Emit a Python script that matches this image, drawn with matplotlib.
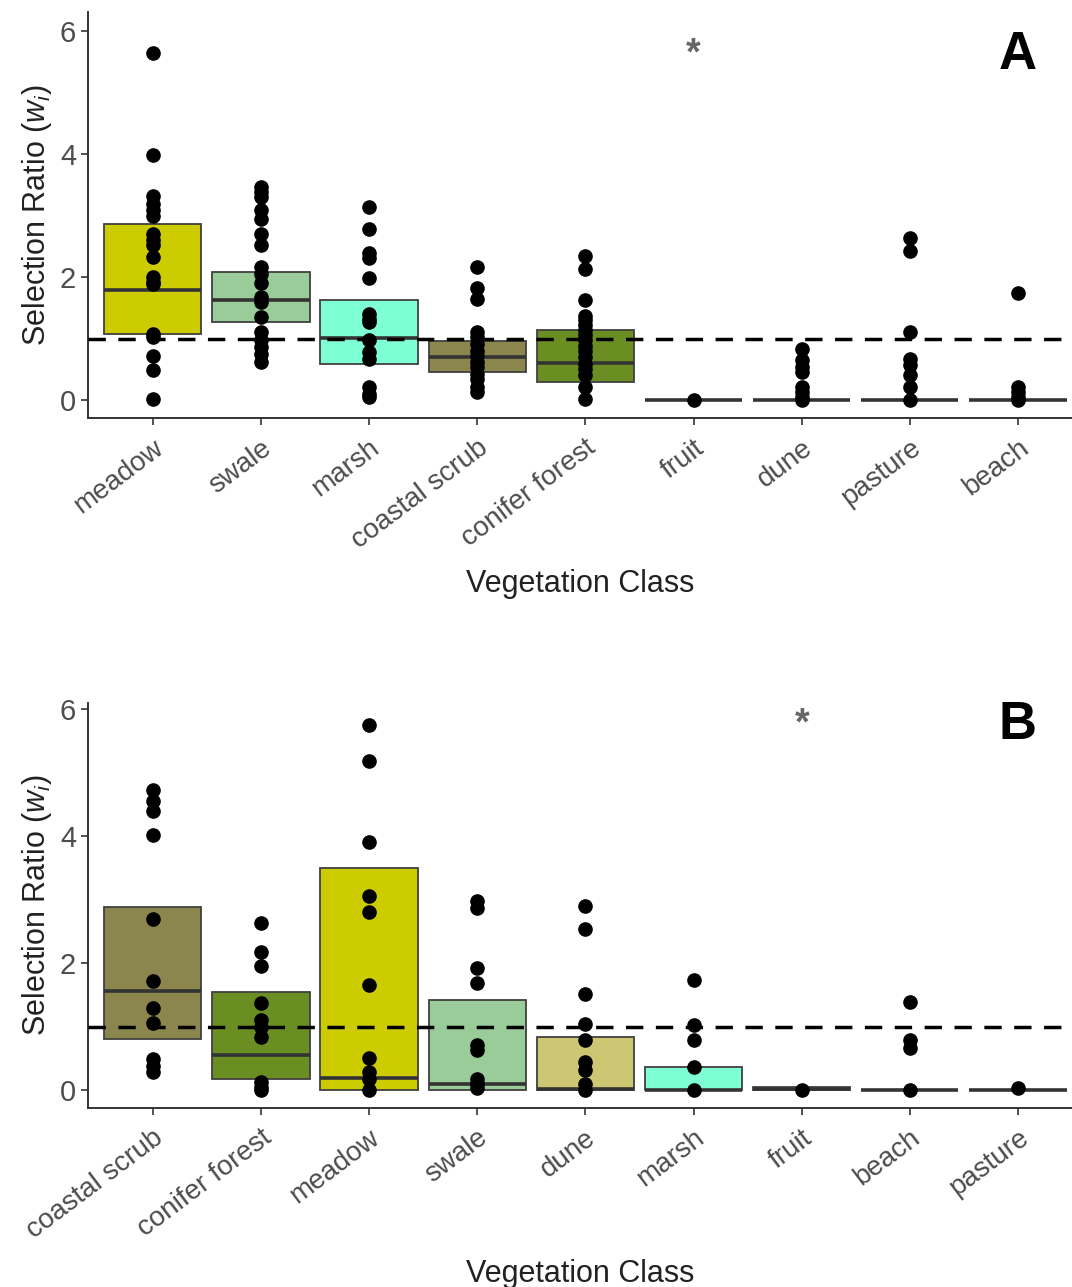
import matplotlib
matplotlib.use("Agg")
import matplotlib.pyplot as plt

plt.rcParams['font.family'] = ['Liberation Sans', 'DejaVu Sans']
plt.rcParams['mathtext.fontset'] = 'custom'
plt.rcParams['mathtext.it'] = 'Liberation Sans:italic'
plt.rcParams['mathtext.rm'] = 'Liberation Sans'

# ---- panel A data ----
cats_a = ["meadow", "swale", "marsh", "coastal scrub", "conifer forest",
          "fruit", "dune", "pasture", "beach"]
box_low_a = [1.08, 1.27, 0.59, 0.46, 0.30, 0.0, 0.0, 0.0, 0.0]
box_high_a = [2.86, 2.09, 1.64, 0.96, 1.15, 0.01, 0.01, 0.01, 0.01]
median_a = [1.79, 1.64, 1.01, 0.70, 0.61, 0.0, 0.0, 0.0, 0.0]
points_a = [
    [5.64, 3.99, 3.32, 3.19, 3.10, 2.99, 2.71, 2.61, 2.52, 2.33, 2.00, 1.92,
     1.90, 1.08, 1.03, 0.73, 0.49, 0.03],
    [3.47, 3.39, 3.30, 3.10, 2.95, 2.71, 2.52, 2.17, 2.06, 1.91, 1.68, 1.60,
     1.35, 1.11, 0.98, 0.87, 0.76, 0.62],
    [3.14, 2.79, 2.39, 2.32, 1.99, 1.41, 1.33, 1.27, 0.98, 0.79, 0.68, 0.22,
     0.11, 0.05],
    [2.17, 1.83, 1.65, 1.11, 1.03, 0.92, 0.81, 0.73, 0.62, 0.54, 0.43, 0.35,
     0.22, 0.14],
    [2.34, 2.14, 1.63, 1.38, 1.30, 1.22, 1.14, 1.06, 0.98, 0.89, 0.81, 0.70,
     0.60, 0.51, 0.41, 0.22, 0.03],
    [0.0],
    [0.84, 0.65, 0.54, 0.46, 0.22, 0.14, 0.05, 0.0],
    [2.64, 2.43, 1.11, 0.68, 0.57, 0.41, 0.22, 0.0],
    [1.74, 0.22, 0.14, 0.05, 0.0],
]

# ---- panel B data ----
cats_b = ["coastal scrub", "conifer forest", "meadow", "swale", "dune",
          "marsh", "fruit", "beach", "pasture"]
box_low_b = [0.81, 0.18, 0.0, 0.0, 0.01, 0.01, 0.0, 0.0, 0.0]
box_high_b = [2.88, 1.54, 3.50, 1.42, 0.84, 0.37, 0.05, 0.01, 0.01]
median_b = [1.56, 0.55, 0.20, 0.10, 0.02, 0.01, 0.02, 0.0, 0.0]
points_b = [
    [4.73, 4.55, 4.39, 4.02, 2.69, 1.72, 1.30, 1.06, 0.50, 0.39, 0.29],
    [2.63, 2.18, 1.95, 1.37, 1.10, 1.00, 0.84, 0.13, 0.05, 0.0],
    [5.75, 5.18, 3.90, 3.06, 2.81, 1.66, 0.51, 0.29, 0.18, 0.0],
    [2.97, 2.86, 1.93, 1.69, 0.71, 0.63, 0.18, 0.10, 0.03],
    [2.90, 2.54, 1.51, 1.05, 0.79, 0.45, 0.32, 0.10, 0.0],
    [1.74, 1.02, 0.79, 0.37, 0.0],
    [0.0],
    [1.39, 0.79, 0.66, 0.0],
    [0.03],
]

CLASS_COLOURS = {
    "meadow": "#CCCC00",
    "swale": "#99CC99",
    "marsh": "#7FFFD4",
    "coastal scrub": "#8B864E",
    "conifer forest": "#6B8E23",
    "dune": "#CDC673",
    "fruit": "#FFFFFF",
    "pasture": "#FFFFFF",
    "beach": "#FFFFFF",
}

BOX_WIDTH = 0.9
TEXT_GREY = '#4D4D4D'


def draw_panel(ax, cats, lows, highs, meds, pts, star_y, letter, ylim):
    x = list(range(len(cats)))
    heights = [h - l for h, l in zip(highs, lows)]
    ax.bar(x, heights, bottom=lows, width=BOX_WIDTH,
           color=[CLASS_COLOURS[c] for c in cats],
           edgecolor='#404040', linewidth=1.3, zorder=2)
    ax.hlines(meds, [i - BOX_WIDTH / 2 for i in x],
              [i + BOX_WIDTH / 2 for i in x],
              color='#333333', linewidth=2.6, zorder=3)
    ax.axhline(1, color='black', linestyle=(0, (5, 3.6)), linewidth=2.5,
               zorder=4)
    for i, vals in enumerate(pts):
        ax.plot([i] * len(vals), vals, 'o', color='black', markersize=9.5,
                zorder=5)
    # significance star and panel letter
    ax.text(cats.index("fruit"), star_y, "*", color='#666666',
            fontsize=27, ha='center', va='center', fontweight='bold')
    ax.text(8.0, star_y, letter, fontsize=38, fontweight='bold',
            ha='center', va='center', color='black')

    ax.set_xlim(-0.6, 8.5)
    ax.set_ylim(*ylim)
    ax.set_yticks([0, 2, 4, 6])
    ax.set_xticks(x)
    ax.set_xticklabels(cats, rotation=37, ha='right', rotation_mode='anchor',
                       fontsize=20, color=TEXT_GREY)
    ax.tick_params(axis='y', labelsize=21, labelcolor=TEXT_GREY)
    ax.tick_params(axis='x', pad=7)
    ax.tick_params(color='#333333', length=5, width=1.2)
    for side in ['top', 'right']:
        ax.spines[side].set_visible(False)
    for side in ['left', 'bottom']:
        ax.spines[side].set_linewidth(1.4)
        ax.spines[side].set_color('#333333')
    ax.set_xlabel("Vegetation Class", fontsize=22, color='#222222',
                  labelpad=11)
    ax.set_ylabel("Selection Ratio ($w_i$)", fontsize=22, color='#222222',
                  labelpad=4)


fig = plt.figure(figsize=(10.72, 12.87), dpi=100)
ax_a = fig.add_axes([0.082, 0.675, 0.918, 0.3155])
ax_b = fig.add_axes([0.082, 0.139, 0.918, 0.3147])

draw_panel(ax_a, cats_a, box_low_a, box_high_a, median_a, points_a,
           5.62, "A", (-0.29, 6.31))
draw_panel(ax_b, cats_b, box_low_b, box_high_b, median_b, points_b,
           5.75, "B", (-0.28, 6.09))

fig.savefig("out.png", dpi=100)
